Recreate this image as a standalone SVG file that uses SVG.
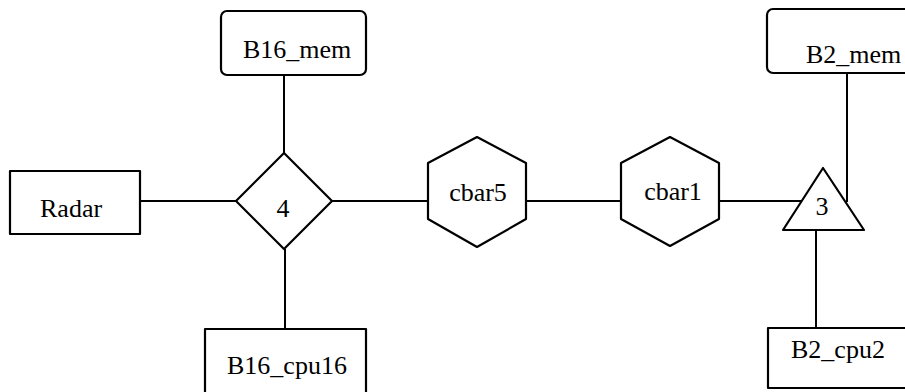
<svg xmlns="http://www.w3.org/2000/svg" width="905" height="392" viewBox="0 0 905 392">
  <style>
    .shape { fill: #ffffff; stroke: #000000; stroke-width: 2.2; stroke-linejoin: round; }
    .wire { stroke: #000000; stroke-width: 2; fill: none; }
    .label { font-family: "Liberation Serif", "Times New Roman", serif; font-size: 26px; fill: #000000; }
  </style>
  <rect width="905" height="392" fill="#ffffff"/>

  <!-- connectors -->
  <g id="connectors">
    <line class="wire" x1="284" y1="75" x2="284" y2="153"/>
    <line class="wire" x1="140" y1="201" x2="236" y2="201"/>
    <line class="wire" x1="332" y1="201" x2="428" y2="201"/>
    <line class="wire" x1="285" y1="249" x2="285" y2="329"/>
    <line class="wire" x1="526" y1="201" x2="621" y2="201"/>
    <line class="wire" x1="719" y1="201" x2="802" y2="201"/>
    <line class="wire" x1="847" y1="73" x2="847" y2="202"/>
    <line class="wire" x1="816" y1="230" x2="816" y2="328"/>
  </g>

  <g id="B16_mem">
    <rect class="shape" x="221" y="11" width="145" height="64" rx="6"/>
    <text class="label" x="243" y="58">B16_mem</text>
  </g>

  <g id="Radar">
    <rect class="shape" x="10" y="171" width="130" height="63"/>
    <text class="label" x="40" y="217">Radar</text>
  </g>

  <g id="switch4">
    <polygon class="shape" points="284,153 332,201 284,249 236,201"/>
    <text class="label" x="283" y="217" text-anchor="middle">4</text>
  </g>

  <g id="B16_cpu16">
    <rect class="shape" x="205" y="329" width="161" height="70"/>
    <text class="label" x="227" y="374">B16_cpu16</text>
  </g>

  <g id="cbar5">
    <polygon class="shape" points="477,137 526,163 526,219 477,247 428,219 428,163"/>
    <text class="label" x="478" y="201" text-anchor="middle">cbar5</text>
  </g>

  <g id="cbar1">
    <polygon class="shape" points="670,137 719,163 719,219 670,246 621,219 621,163"/>
    <text class="label" x="673" y="200" text-anchor="middle">cbar1</text>
  </g>

  <g id="switch3">
    <polygon class="shape" points="823,168 864,230 783,230"/>
    <text class="label" x="822" y="215" text-anchor="middle">3</text>
  </g>

  <g id="B2_mem">
    <rect class="shape" x="767" y="9" width="150" height="64" rx="6"/>
    <text class="label" x="806" y="63">B2_mem</text>
  </g>

  <g id="B2_cpu2">
    <rect class="shape" x="768" y="328" width="150" height="60"/>
    <text class="label" x="791" y="358">B2_cpu2</text>
  </g>
</svg>
